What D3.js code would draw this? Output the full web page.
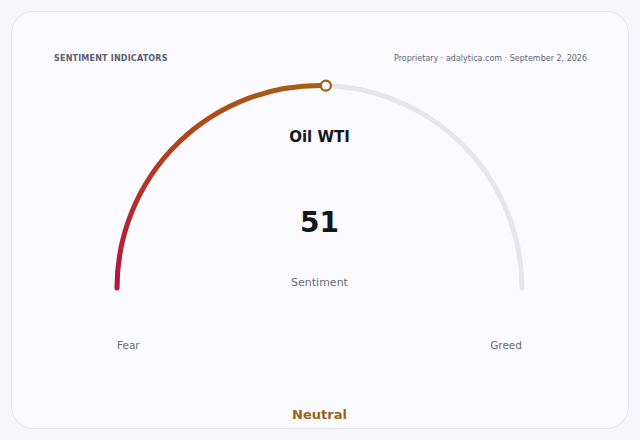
<!DOCTYPE html>
<html>
<head>
<meta charset="utf-8">
<script src="https://cdn.jsdelivr.net/npm/d3@7"></script>
<style>
  html, body { margin: 0; padding: 0; background: #f7f7fb; }
  body { width: 640px; height: 440px; overflow: hidden; }
  svg { display: block; font-family: "DejaVu Sans", sans-serif; }
</style>
</head>
<body>
<div id="vis"></div>
<script>
// ── DATA ───────────────────────────────────────────────────────────────────────
const indicator  = "Oil WTI";
const values     = [51];          // current sentiment reading
const domainEnds = [0, 100];      // gauge range
const endLabels  = ["Fear", "Greed"];
const stateLabel = "Neutral";
const header     = "SENTIMENT INDICATORS";
const source     = "Proprietary · adalytica.com · September 2, 2026";

// ── CONFIG ─────────────────────────────────────────────────────────────────────
const width   = 640;
const height  = 440;
const cx      = 319.5;
const cy      = 288;
const radius  = 202.5;
const strokeW = 5;

const svg = d3.select("#vis").append("svg")
    .attr("width", width)
    .attr("height", height)
    .attr("viewBox", [0, 0, width, height]);

// card
svg.append("rect")
    .attr("x", 11.5).attr("y", 11.5)
    .attr("width", 617).attr("height", 417)
    .attr("rx", 22)
    .attr("fill", "#fafaff")
    .attr("stroke", "#e3e3ec");

// angle scale: 0 → left end, 100 → right end (radians from "up", clockwise)
const angle = d3.scaleLinear(domainEnds, [-Math.PI / 2, Math.PI / 2]);

// open arc path (so round caps apply)
function arcPath(v0, v1) {
  const p = d3.path();
  const a0 = angle(v0) - Math.PI / 2, a1 = angle(v1) - Math.PI / 2;
  p.moveTo(cx + radius * Math.cos(a0), cy + radius * Math.sin(a0));
  p.arc(cx, cy, radius, a0, a1, false);
  return p.toString();
}

const aVal = angle(values[0]);
const mx = cx + radius * Math.sin(aVal);
const my = cy - radius * Math.cos(aVal);

const grad = svg.append("defs").append("linearGradient")
    .attr("id", "fill-grad")
    .attr("gradientUnits", "userSpaceOnUse")
    .attr("x1", cx - radius).attr("y1", cy)
    .attr("x2", mx).attr("y2", my);
grad.append("stop").attr("offset", "0%").attr("stop-color", "#b3163f");
grad.append("stop").attr("offset", "45%").attr("stop-color", "#b3401f");
grad.append("stop").attr("offset", "100%").attr("stop-color", "#a3620f");

// track
svg.append("path")
    .attr("d", arcPath(domainEnds[0], domainEnds[1]))
    .attr("fill", "none")
    .attr("stroke", "#e6e6ec")
    .attr("stroke-width", strokeW)
    .attr("stroke-linecap", "round");

// filled part
svg.append("path")
    .attr("d", arcPath(domainEnds[0], values[0]))
    .attr("fill", "none")
    .attr("stroke", "url(#fill-grad)")
    .attr("stroke-width", strokeW)
    .attr("stroke-linecap", "round");

// marker
svg.append("circle")
    .attr("cx", mx)
    .attr("cy", my)
    .attr("r", 5)
    .attr("fill", "#fafaff")
    .attr("stroke", "#a0620f")
    .attr("stroke-width", 2.2);

// ── TEXT ───────────────────────────────────────────────────────────────────────
svg.append("text")
    .attr("x", 54).attr("y", 61)
    .attr("fill", "#5c5c70")
    .style("font-size", "8px")
    .style("font-weight", "bold")
    .style("letter-spacing", "0.2px")
    .text(header);

svg.append("text")
    .attr("x", 587).attr("y", 61)
    .attr("text-anchor", "end")
    .attr("fill", "#666672")
    .style("font-size", "8px")
    .text(source);

svg.append("text")
    .attr("x", cx).attr("y", 142)
    .attr("text-anchor", "middle")
    .attr("fill", "#16161c")
    .style("font-size", "15px")
    .style("font-weight", "bold")
    .text(indicator);

svg.append("text")
    .attr("x", cx).attr("y", 232)
    .attr("text-anchor", "middle")
    .attr("fill", "#16161c")
    .style("font-size", "28px")
    .style("font-weight", "bold")
    .text(values[0]);

svg.append("text")
    .attr("x", cx).attr("y", 286)
    .attr("text-anchor", "middle")
    .attr("fill", "#6a6a74")
    .style("font-size", "11px")
    .text("Sentiment");

svg.append("text")
    .attr("x", cx - radius).attr("y", 349)
    .attr("fill", "#6a6a74")
    .style("font-size", "10.5px")
    .text(endLabels[0]);

svg.append("text")
    .attr("x", cx + radius).attr("y", 349)
    .attr("text-anchor", "end")
    .attr("fill", "#6a6a74")
    .style("font-size", "10.5px")
    .text(endLabels[1]);

svg.append("text")
    .attr("x", cx).attr("y", 419)
    .attr("text-anchor", "middle")
    .attr("fill", "#9c6412")
    .style("font-size", "13px")
    .style("font-weight", "bold")
    .text(stateLabel);
</script>
</body>
</html>
